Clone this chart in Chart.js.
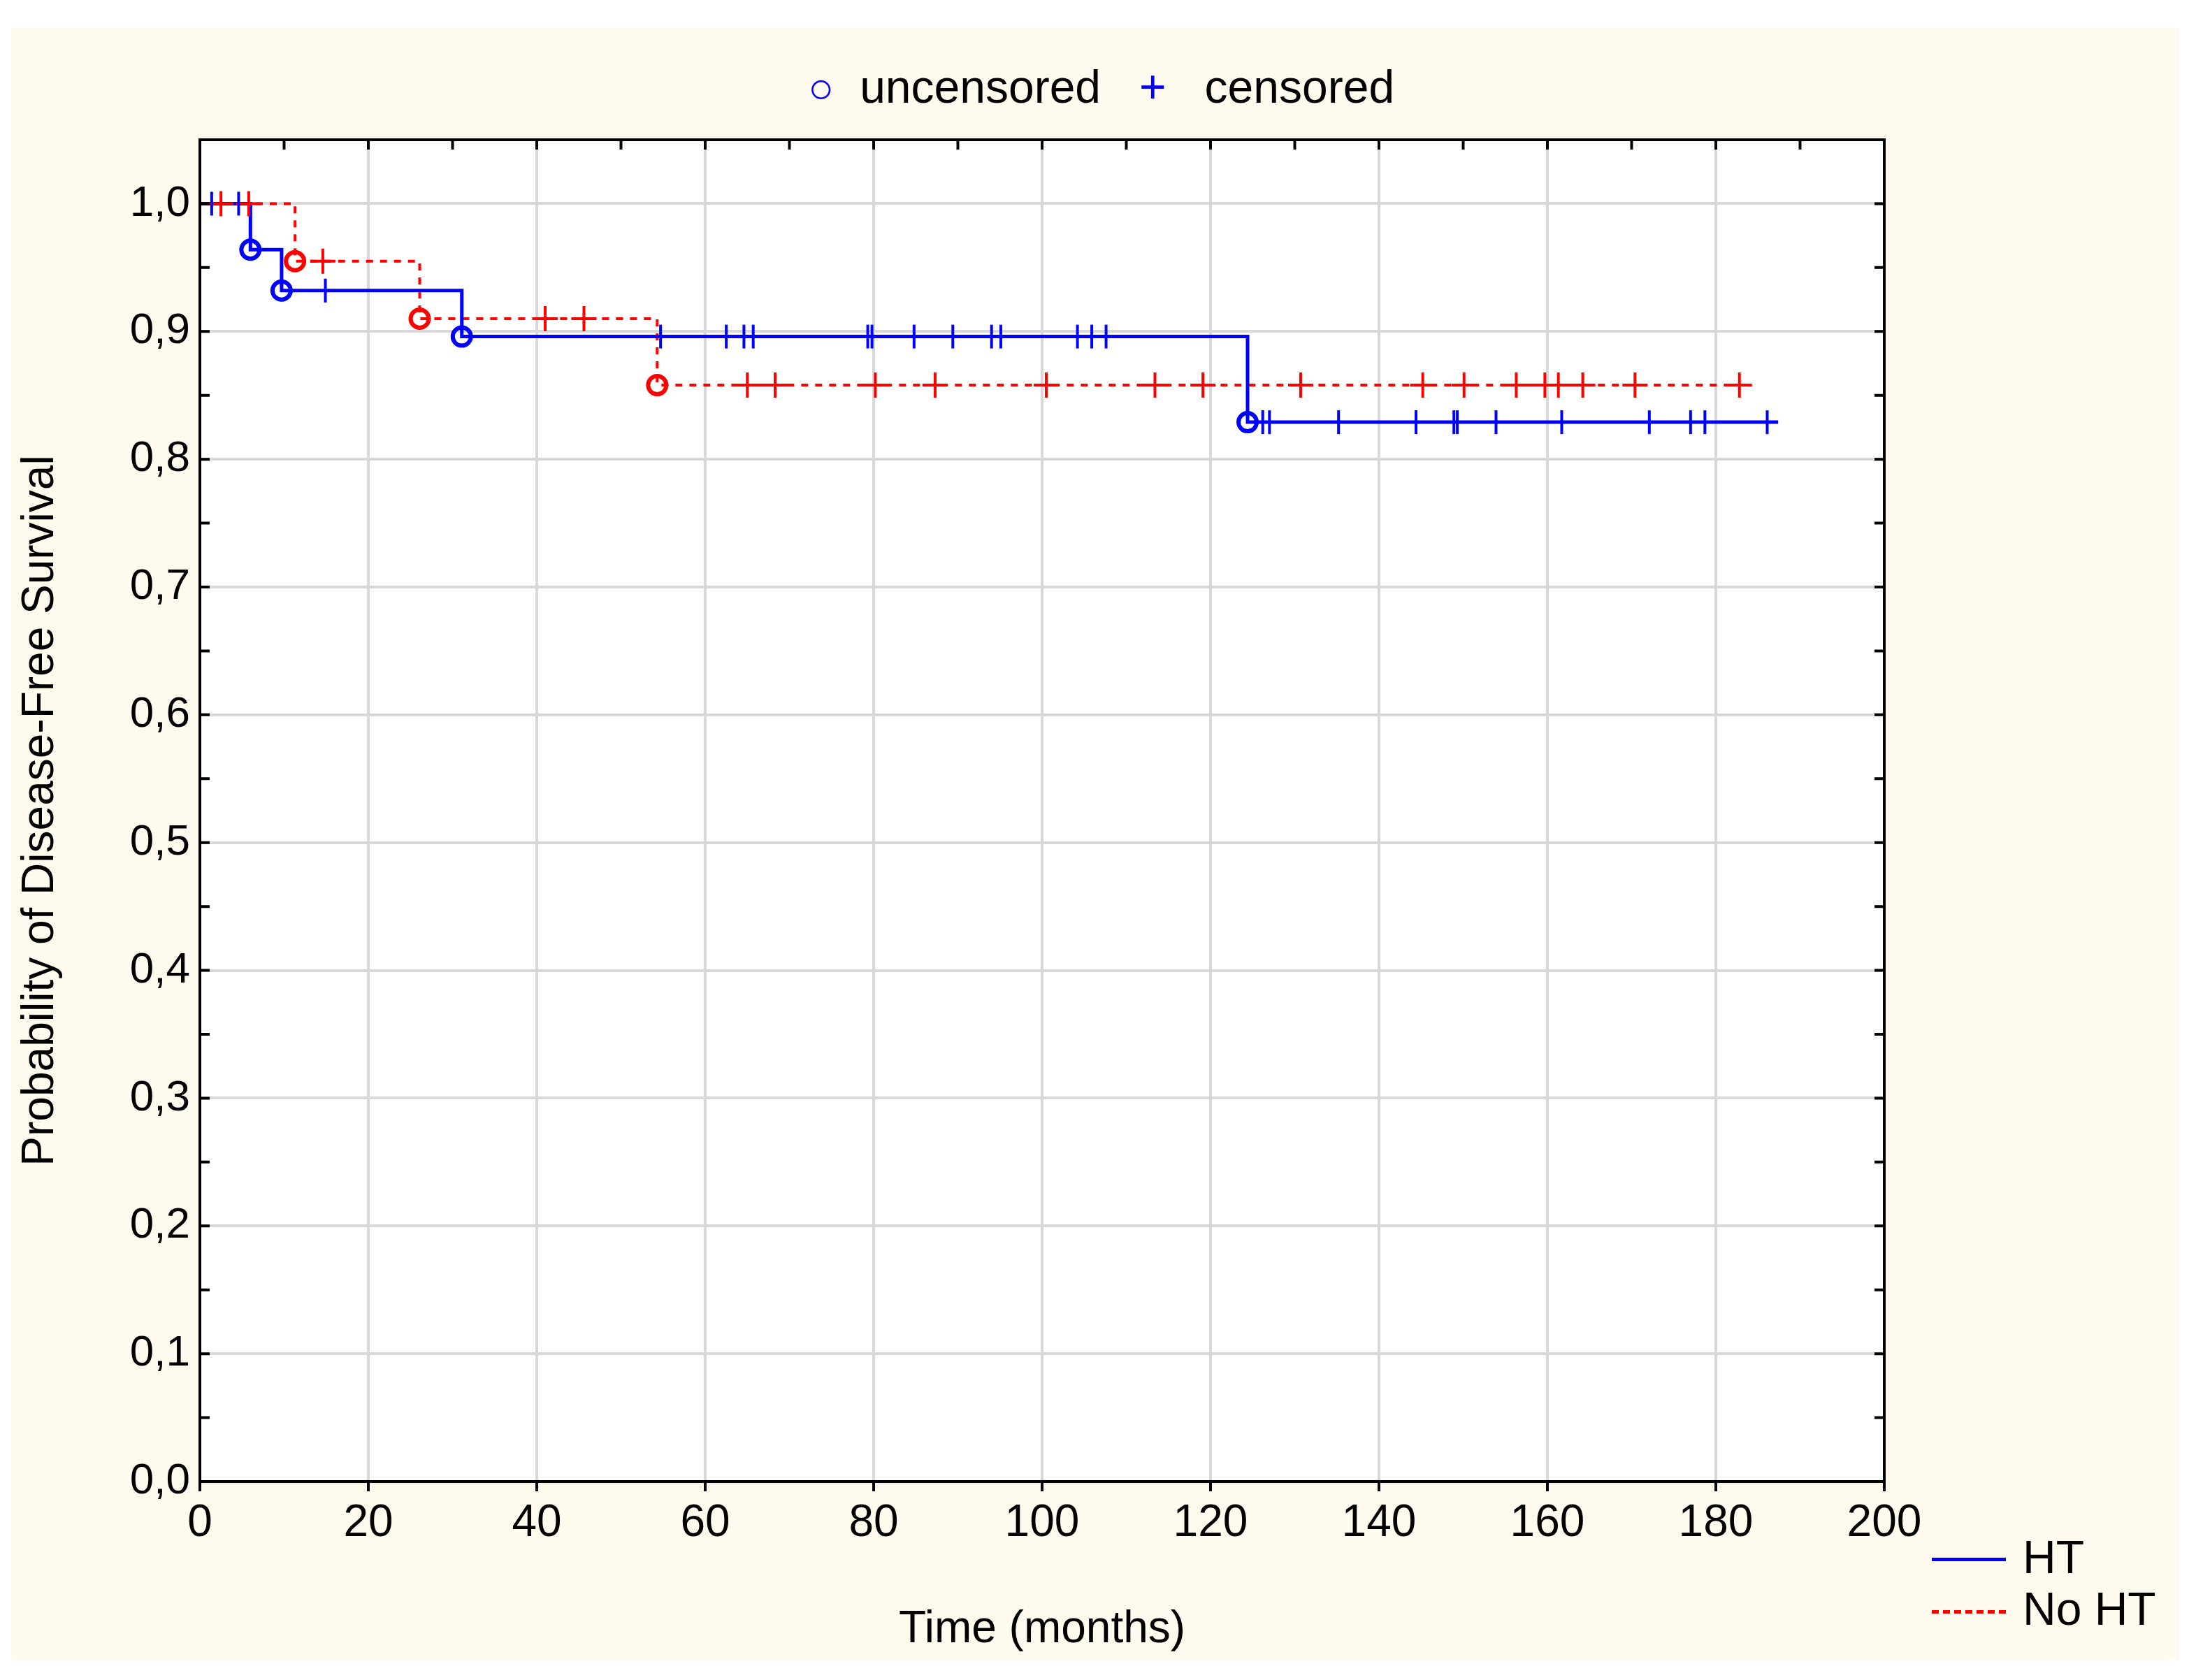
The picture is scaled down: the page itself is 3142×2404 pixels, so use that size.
<!DOCTYPE html>
<html><head><meta charset="utf-8">
<script src="https://cdn.jsdelivr.net/npm/chart.js@4/dist/chart.umd.min.js"></script>
<style>
html,body{margin:0;padding:0;background:#fff;width:3142px;height:2404px;overflow:hidden;font-family:"Liberation Sans",Arial,sans-serif;}
#wrap{position:absolute;left:16px;top:40px;width:3102px;height:2335px;background:#fffaee;}
canvas{position:absolute;left:0;top:0;}
.lg{position:absolute;font-size:66px;color:#000;white-space:nowrap;}
</style></head><body>
<div id="wrap">
<canvas id="c" width="3102" height="2335"></canvas>
<div class="lg" style="left:1140px;top:46px;"><span style="color:#0000ff;font-size:62px;">○</span>&nbsp;&nbsp;uncensored&nbsp;&nbsp;&nbsp;<span style="color:#0000ff;">+</span>&nbsp;&nbsp;&nbsp;censored</div>
<div style="position:absolute;left:2748px;top:2189px;width:106px;height:5px;background:#0000ff;"></div>
<div class="lg" style="left:2878px;top:2150px;">HT</div>
<div style="position:absolute;left:2748px;top:2264px;width:106px;height:0;border-top:5px dashed #ff0000;"></div>
<div class="lg" style="left:2878px;top:2224px;">No HT</div>
</div>
<script>
// Kaplan-Meier step curves
const htTimes = [0, 6.0, 9.7, 31.1, 124.4, 187.4];
const htSurv  = [1.0, 0.964, 0.932, 0.896, 0.829, 0.829];
const noTimes = [0, 11.3, 26.1, 54.3, 184.1];
const noSurv  = [1.0, 0.955, 0.910, 0.858, 0.858];
// uncensored events
const htEventT = [6.0, 9.7, 31.1, 124.4];
const htEventS = [0.964, 0.932, 0.896, 0.829];
const noEventT = [11.3, 26.1, 54.3];
const noEventS = [0.955, 0.910, 0.858];
// censored observations
const htCensT = [1.4, 4.6, 14.9, 54.7, 62.5, 64.6, 65.7, 79.3, 79.8, 84.8, 89.4, 94.0, 95.1, 104.2, 105.9, 107.6,
  126.2, 127.0, 135.2, 144.4, 148.9, 149.3, 153.9, 161.7, 172.1, 177.0, 178.7, 186.1];
const noCensT = [2.5, 5.8, 14.6, 41.0, 45.6, 65.0, 68.3, 80.2, 87.3, 100.5, 113.4, 119.1, 130.7, 145.2, 150.1,
  156.3, 159.7, 161.3, 164.2, 170.4, 182.8];
const xTicks = [0,20,40,60,80,100,120,140,160,180,200];

function survAt(times, surv, t){ let s=surv[0]; for(let i=0;i<times.length;i++){ if(times[i]<=t) s=surv[i]; } return s; }
const pts = (T,S)=>T.map((t,i)=>({x:t,y:S[i]}));
const BLUE='#0000ff', RED='#ff0000';

new Chart(document.getElementById('c'), {
  type:'scatter',
  data:{datasets:[
    {label:'No HT', data:pts(noTimes,noSurv), showLine:true, stepped:true, borderColor:RED, borderWidth:4, borderDash:[10,10], pointRadius:0, order:3},
    {label:'HT', data:pts(htTimes,htSurv), showLine:true, stepped:true, borderColor:BLUE, borderWidth:5, pointRadius:0, order:2},
    {label:'no cens', data:noCensT.map(t=>({x:t,y:survAt(noTimes,noSurv,t)})), pointStyle:'cross', pointRadius:18, borderColor:RED, borderWidth:4, showLine:false, order:1},
    {label:'ht cens', data:htCensT.map(t=>({x:t,y:survAt(htTimes,htSurv,t)})), pointStyle:'line', rotation:90, pointRadius:17, borderColor:BLUE, borderWidth:4, showLine:false, order:0},
    {label:'no ev', data:pts(noEventT,noEventS), pointStyle:'circle', pointRadius:13, borderColor:RED, backgroundColor:'rgba(255,255,255,0)', borderWidth:6, showLine:false, order:0},
    {label:'ht ev', data:pts(htEventT,htEventS), pointStyle:'circle', pointRadius:13, borderColor:BLUE, backgroundColor:'rgba(255,255,255,0)', borderWidth:6, showLine:false, order:0}
  ]},
  options:{
    responsive:false, animation:false,
    layout:{padding:{left:0,right:422,top:160,bottom:0}},
    plugins:{legend:{display:false}, tooltip:{enabled:false}},
    scales:{
      x:{type:'linear', min:0, max:200, afterBuildTicks:a=>{a.ticks=xTicks.map(v=>({value:v}));},
        afterFit:a=>{a.height=255;},
        border:{color:'#000',width:4},
        grid:{color:'#d8d8d8',lineWidth:4,tickLength:14,tickColor:'#000'},
        ticks:{color:'#000',font:{family:'Liberation Sans',size:64},padding:8,maxRotation:0},
        title:{display:true,text:'Time (months)',color:'#000',font:{family:'Liberation Sans',size:64},padding:{top:0}}},
      y:{min:0, max:1.05, afterBuildTicks:a=>{const t=[];for(let i=0;i<=20;i++)t.push({value:i*0.05});a.ticks=t;},
        afterFit:a=>{a.width=270;},
        border:{color:'#000',width:4},
        grid:{color:c=>(Math.round(c.tick.value*100)%10===0)?'#d8d8d8':'rgba(0,0,0,0)',lineWidth:4,tickLength:0},
        ticks:{color:'#000',font:{family:'Liberation Sans',size:62},padding:14,
          callback:v=>(Math.round(v*100)%10===0)?v.toFixed(1).replace('.',','):''},
        title:{display:true,text:'Probability of Disease-Free Survival',color:'#000',font:{family:'Liberation Sans',size:64},padding:{bottom:6}}}
    }
  },
  plugins:[{id:'frame',afterDraw(ch){const a=ch.chartArea,x=ch.ctx;x.save();x.strokeStyle='#000';x.lineWidth=4;x.strokeRect(a.left,a.top,a.right-a.left,a.bottom-a.top);
    const ys=ch.scales.y; for(let i=0;i<=20;i++){const py=ys.getPixelForValue(i*0.05);x.beginPath();x.moveTo(a.right,py);x.lineTo(a.right-14,py);x.moveTo(a.left,py);x.lineTo(a.left+14,py);x.stroke();}
    const xs=ch.scales.x; for(let v=0;v<=200;v+=10){const px=xs.getPixelForValue(v);x.beginPath();x.moveTo(px,a.top);x.lineTo(px,a.top+14);x.stroke();}
    x.restore();},
    beforeDraw(ch){const a=ch.chartArea,x=ch.ctx;x.save();x.fillStyle='#fff';x.fillRect(a.left,a.top,a.right-a.left,a.bottom-a.top);x.restore();}}]
});
</script></body></html>
